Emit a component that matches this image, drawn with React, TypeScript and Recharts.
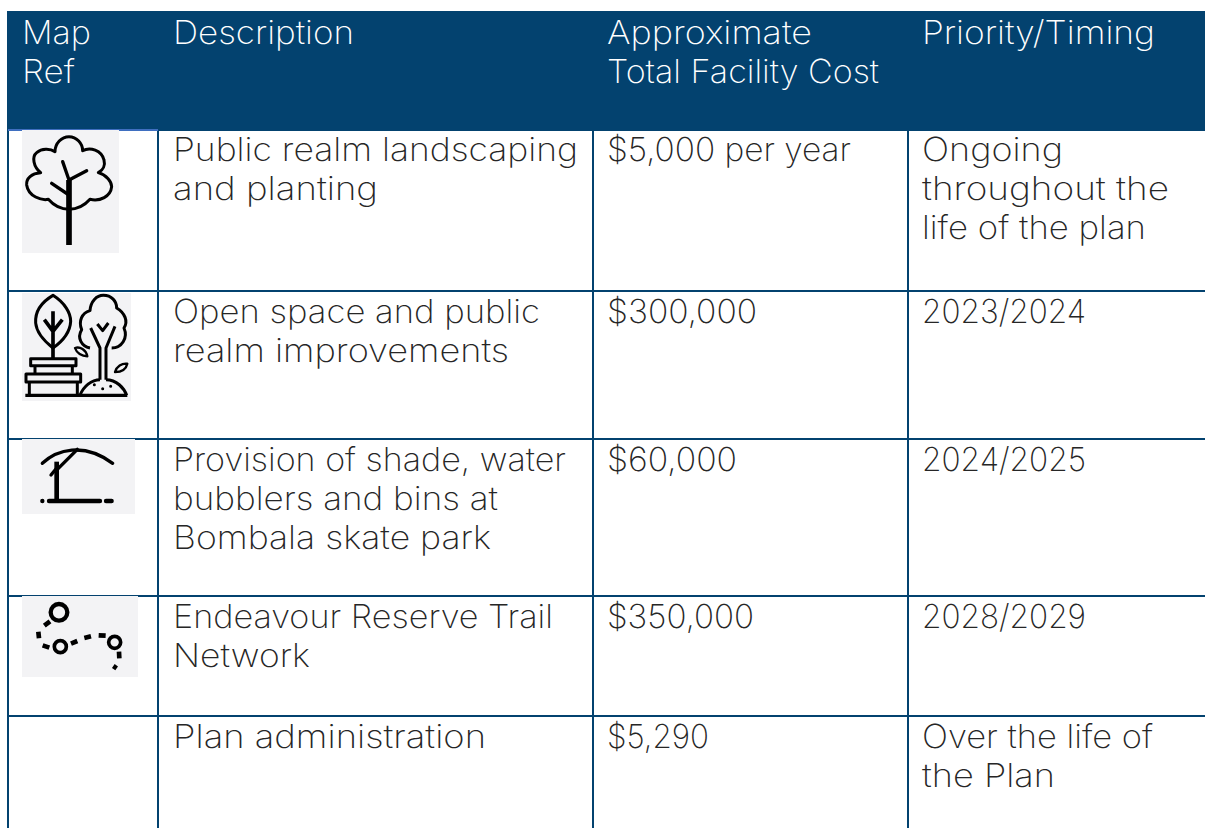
import { ScatterChart, Scatter, XAxis, YAxis, ReferenceArea, ReferenceLine } from "recharts";

const headers = [["Map", "Ref"], ["Description"], ["Approximate", "Total Facility Cost"], ["Priority/Timing"]];
const descriptions = [
  ["Public realm landscaping", "and planting"],
  ["Open space and public", "realm improvements"],
  ["Provision of shade, water", "bubblers and bins at", "Bombala skate park"],
  ["Endeavour Reserve Trail", "Network"],
  ["Plan administration"],
];
const costs = ["$5,000 per year", "$300,000", "$60,000", "$350,000", "$5,290"];
const timings = [
  ["Ongoing", "throughout the", "life of the plan"],
  ["2023/2024"],
  ["2024/2025"],
  ["2028/2029"],
  ["Over the life of", "the Plan"],
];
const icons = ["tree", "planting", "shade", "trail"];

// table geometry, in page pixels
const W = 1205;
const H = 828;
const colLines = [8, 158, 593, 908];
const rowLines = [291, 439, 596, 716];
const textX = [22, 173, 607, 922];
const headBase = 44;
const rowBase = [161, 323, 471, 628, 748];
const lineH = 39;
const iconBox = [
  { x: 22, y: 130, w: 97, h: 123 },
  { x: 22, y: 293, w: 109, h: 108 },
  { x: 22, y: 439, w: 113, h: 75 },
  { x: 22, y: 596, w: 116, h: 81 },
];

// the original face (Montserrat Light) is not installed, so each line is fitted to its measured width
const lineWidths: Record<string, number> = {
  Map: 69,
  Ref: 53,
  Description: 181,
  Approximate: 205,
  "Total Facility Cost": 272,
  "Priority/Timing": 233,
  "Public realm landscaping": 405,
  "and planting": 205,
  "Open space and public": 367,
  "realm improvements": 336,
  "Provision of shade, water": 393,
  "bubblers and bins at": 325,
  "Bombala skate park": 318,
  "Endeavour Reserve Trail": 380,
  Network: 137,
  "Plan administration": 313,
  "$5,000 per year": 244,
  "$300,000": 150,
  "$60,000": 130,
  "$350,000": 147,
  "$5,290": 102,
  Ongoing: 141,
  "throughout the": 247,
  "life of the plan": 224,
  "2023/2024": 164,
  "2024/2025": 164,
  "2028/2029": 164,
  "Over the life of": 231,
  "the Plan": 133,
};

const NAVY = "#03426f";
const INK = "#262626";
const FONT = "Inter, 'Open Sans', sans-serif";

type Cell = { x: number; y: number; text: string; fill: string };
const cells: Cell[] = [];
headers.forEach((lines, c) =>
  lines.forEach((text, i) => cells.push({ x: textX[c], y: headBase + i * lineH, text, fill: "#ffffff" }))
);
[null, descriptions, costs.map(c => [c]), timings].forEach((col, c) => {
  if (!col) return;
  col.forEach((lines, r) =>
    lines.forEach((text, i) => cells.push({ x: textX[c], y: rowBase[r] + i * lineH, text, fill: INK }))
  );
});

const iconData = icons.map((name, i) => ({ x: iconBox[i].x, y: iconBox[i].y, name, w: iconBox[i].w, h: iconBox[i].h }));

// icon drawings are in 3x zoomed pixels, each with its own origin
function TreeIcon() {
  return (
    <g transform="scale(0.3333) translate(-66,-390)" fill="none" stroke="#000" strokeLinecap="round" strokeLinejoin="round">
      <path strokeWidth={9} d="M207 628 C180 628 160 615 145 598 C125 602 85 590 80 555 C78 535 95 520 122 518 C100 500 95 470 110 458 C125 445 150 445 165 455 C165 430 185 410 207 410 C230 410 248 430 248 452 C270 440 305 450 312 480 C316 495 310 510 295 518 C320 525 335 545 335 560 C332 590 300 605 270 598 C255 615 235 628 207 628 Z" />
      <path strokeWidth={17} strokeLinecap="butt" d="M207 735 V540" />
      <path strokeWidth={10} d="M207 540 L188 485 M207 540 L260 512 M207 585 L155 550" />
    </g>
  );
}

function PlantingIcon() {
  return (
    <g transform="scale(0.3333) translate(-66,-25)" fill="none" stroke="#000" strokeWidth={9} strokeLinejoin="round">
      <path d="M159 32 C120 55 105 85 107 115 C110 150 140 175 159 190 C180 175 210 150 212 110 C212 85 195 55 159 32 Z" />
      <path strokeWidth={11} d="M159 80 V222 M159 140 L133 105 M159 140 L187 105" />
      <path d="M92 222 H228 V243 H92 Z M105 243 V268 M217 243 V268 M78 268 H242 V292 H78 Z M88 292 V332 M232 292 V332" />
      <path strokeWidth={10} d="M76 332 H382" />
      <path d="M270 190 C245 185 230 160 245 135 C235 110 245 85 270 78 C272 50 290 32 310 32 C335 32 350 50 350 70 C375 85 385 110 372 130 C385 160 365 190 335 190" />
      <path d="M300 285 V190 L272 130 M318 285 V190 L345 125 M292 118 L308 138 L325 115" />
      <path d="M240 332 C250 305 275 285 300 285 M318 285 C350 285 372 310 380 332" />
      <path strokeWidth={7} d="M225 190 C240 185 258 195 262 215 C245 215 230 205 225 190 Z M345 262 C350 245 365 235 382 237 C378 255 362 262 345 262 Z" />
      <path strokeWidth={9} strokeLinecap="round" d="M283 300 h.1 M308 312 h.1 M332 305 h.1" />
    </g>
  );
}

function ShadeIcon() {
  return (
    <g transform="scale(0.3333) translate(-66,-27)" fill="none" stroke="#000" strokeLinecap="round">
      <path strokeWidth={10} d="M127 100 C170 60 250 35 338 100" />
      <path strokeWidth={10} d="M232 58 L172 118 M153 135 L172 112" />
      <path strokeWidth={14} strokeLinecap="butt" d="M170 95 V210" />
      <path strokeWidth={13} d="M147 213 H300 M318 213 H335 M127 213 h.1" />
    </g>
  );
}

function TrailIcon() {
  return (
    <g transform="scale(0.3333) translate(-66,-33)" fill="none" stroke="#000">
      <circle cx={177} cy={82} r={25} strokeWidth={13} />
      <circle cx={181} cy={185} r={18} strokeWidth={11} />
      <circle cx={344} cy={172} r={18} strokeWidth={11} />
      <path strokeWidth={14} d="M133 122 L150 109 M115 140 L117 160 M128 181 L148 188 M213 176 L232 168 M253 159 L273 154 M296 151 L317 152 M357 200 L358 220 M340 243 L350 250" />
    </g>
  );
}

const drawings: Record<string, () => React.ReactElement> = {
  tree: TreeIcon,
  planting: PlantingIcon,
  shade: ShadeIcon,
  trail: TrailIcon,
};

function IconShape(props: any) {
  const { cx, cy, payload } = props;
  const Drawing = drawings[payload.name];
  return (
    <g transform={`translate(${cx},${cy})`}>
      <rect width={payload.w} height={payload.h} fill="#f3f3f5" />
      <Drawing />
    </g>
  );
}

function TextShape(props: any) {
  const { cx, cy, payload } = props;
  return (
    <text
      x={cx}
      y={cy}
      fill={payload.fill}
      fontFamily={FONT}
      fontWeight={200}
      fontSize={33}
      textLength={lineWidths[payload.text]}
      lengthAdjust="spacingAndGlyphs"
    >
      {payload.text}
    </text>
  );
}

export default function App() {
  return (
    <div style={{ width: W, height: H, overflow: "hidden", background: "#fff" }}>
      <style>{"body{margin:0}"}</style>
      <ScatterChart width={W} height={H} margin={{ top: 0, right: 0, bottom: 0, left: 0 }}>
        <XAxis type="number" dataKey="x" domain={[0, W]} hide />
        <YAxis type="number" dataKey="y" domain={[0, H]} reversed hide />
        <ReferenceArea x1={7} x2={W} y1={11} y2={131} fill={NAVY} fillOpacity={1} stroke="none" />
        {colLines.map(x => (
          <ReferenceLine key={x} segment={[{ x, y: 131 }, { x, y: H }]} stroke={NAVY} strokeWidth={2} />
        ))}
        {rowLines.map(y => (
          <ReferenceLine key={y} segment={[{ x: 8, y }, { x: W, y }]} stroke={NAVY} strokeWidth={2} />
        ))}
        <ReferenceLine segment={[{ x: 8, y: 130 }, { x: 158, y: 130 }]} stroke="#3f6fc0" strokeWidth={2} />
        <Scatter data={iconData} shape={IconShape} isAnimationActive={false} />
        <Scatter data={cells} shape={TextShape} isAnimationActive={false} />
      </ScatterChart>
    </div>
  );
}
